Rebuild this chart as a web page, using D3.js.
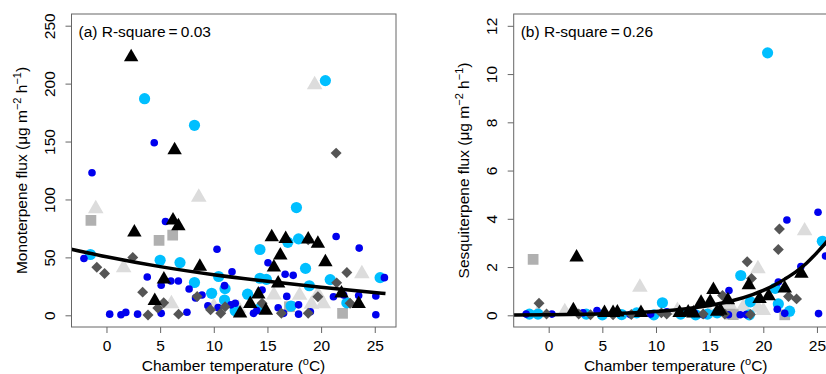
<!DOCTYPE html>
<html>
<head>
<meta charset="utf-8">
<script src="https://cdn.jsdelivr.net/npm/d3@7"></script>
<style>
  body { margin: 0; background: #fff; }
  svg { display: block; font-family: "Liberation Sans", Arial, sans-serif; }
</style>
</head>
<body>
<svg id="chart" width="826" height="374"></svg>
<script>
// ---- panel (a): monoterpene flux, [temperature, flux] ----
const blueA = [[-2.1,49],[-1.35,123],[4.45,149],[0.3,1],[1.35,0.5],[1.8,2.5],[2.9,1],[3.8,33],[5.5,81],[5.1,26],
  [6.0,29.6],[6.7,29.6],[7.7,22.7],[7.5,2.6],[8.3,15],[8.9,17.5],[9.45,8.3],[10.4,6.6],[10.3,57],[11.0,25.6],
  [11.7,37.5],[11.6,9],[12.0,10.4],[13.7,1.7],[14.5,21.8],[15.05,45.3],[16.65,35.5],[17.4,34.5],[16.8,16.3],[16.0,6.5],
  [16.5,1.7],[17.9,1],[17.9,9],[21.4,68],[21.15,16],[22.1,17.5],[23.5,17],[23.55,58],[25.1,16.7],[25.1,0.5],
  [25.9,32.5],[5.1,1.7],[14.0,4],[19.0,3]];
const cyanA = [[20.4,202.6],[3.55,187],[8.2,164],[17.7,93],[17.9,66],[16.9,63],[-1.5,52.5],[5.0,47.5],[6.85,45.5],[14.3,56.8],
  [8.2,28.3],[10.45,33.5],[9.8,19],[11.05,23],[11.0,13.2],[13.15,18.2],[14.3,32],[14.9,31],[14.3,6],[18.55,40.5],
  [18.9,25.5],[20.85,30.8],[22.4,10.7],[25.5,32.5],[12.0,4],[17.2,8]];
const blackTriA = [[2.3,223],[6.35,142.7],[2.6,71.6],[6.2,82],[6.7,77],[8.7,42],[5.35,31],[4.5,12.5],[12.45,1.7],[13.4,9.9],
  [14.15,18],[14.85,4],[15.4,67.5],[15.6,41.5],[16.2,51.8],[16.0,27.6],[16.7,66],[18.8,65.6],[19.7,62],[20.4,46],
  [21.9,19],[23.5,9.8]];
const lightTriA = [[19.4,199],[8.6,102],[-1.0,92],[1.6,41],[6.05,10],[10.0,7.7],[15.6,17.5],[18.0,17.2],[19.7,18.2],[19.1,9.5],
  [23.8,35.8],[12.3,6],[20.2,10]];
const diamondA = [[21.4,140],[-0.9,41.4],[-0.18,36],[2.45,50],[3.37,20],[3.87,0.3],[4.78,6.3],[5.33,10.8],[6.72,1],[8.45,16.3],
  [9.7,4.8],[10.65,1.8],[11.05,7.4],[14.5,10.4],[16.3,1.7],[18.8,65.3],[18.8,1.7],[22.4,37],[21.45,28],[22.7,10.4],
  [19.7,16]];
const squareA = [[-1.45,82],[4.9,64.6],[6.17,69.3],[17.05,7.4],[22.0,1.7]];
const fitXA = [-3.3, 0, 5, 10, 15, 20, 26];
const fitYA = [57, 50.5, 42, 35, 29.3, 24.3, 18.8];

// ---- panel (b): sesquiterpene flux ----
const blueB = [[-2.1,0.05],[0.3,0.05],[4.5,0.2],[7.6,0.03],[11.0,0.15],[14.4,0.02],[16.75,0.02],[17.85,0.02],[16.8,1.03],[21.4,1.38],
  [21.3,0.25],[22.0,0.08],[22.2,3.95],[23.5,2.02],[25.1,4.27],[25.15,0.07],[25.8,2.46],[3.2,0.1],[9.5,0.05],[13.6,0.08],
  [18.4,0.03]];
const cyanB = [[20.4,10.88],[25.5,3.07],[17.9,1.65],[21.1,1.12],[21.4,0.47],[22.45,0.17],[18.8,0.56],[10.6,0.52],[-1.8,0.05],[3.5,0.05],
  [5.0,0.02],[6.8,0.03],[8.2,0.1],[9.8,0.02],[12.3,0.05],[13.7,0.02],[14.8,0.05],[15.7,0.1],[18.7,0.02],[-1.0,0.05]];
const blackTriB = [[2.6,2.4],[18.65,1.25],[23.55,1.73],[22.0,1.12],[19.65,0.68],[20.5,0.8],[15.35,1.06],[16.7,0.63],[14.2,0.53],[15.05,0.56],
  [2.3,0.22],[5.2,0.1],[6.0,0.1],[6.4,0.12],[8.6,0.1],[12.2,0.1],[13.0,0.12],[15.7,0.15],[13.5,0.08],[16.0,0.2]];
const lightTriB = [[23.85,3.5],[8.5,1.16],[19.5,1.93],[18.15,0.36],[19.5,0.3],[17.15,0.22],[1.5,0.15],[12.0,0.2],[-1.0,0.1],[20.0,0.2],
  [16.5,0.4],[15.0,0.1],[13.5,0.1]];
const diamondB = [[21.5,3.58],[21.4,2.73],[18.5,2.22],[18.9,1.53],[22.35,0.78],[23.1,0.68],[16.2,0.82],[-0.9,0.5],[-0.2,0.05],[2.8,0.05],
  [3.9,0.02],[6.0,0.02],[7.7,0.03],[11.0,0.05],[14.4,0.05],[16.4,0.05],[18.8,0.03],[10.5,0.1]];
const squareB = [[-1.45,2.32],[22.0,0.02],[16.9,0.05],[17.2,0.03]];
const fitXB = [-3.3, 0, 5, 10, 13, 15, 17, 19, 20, 21, 22, 23, 24, 25, 26, 27];
const fitYB = [0.015, 0.026, 0.065, 0.16, 0.28, 0.41, 0.59, 0.86, 1.03, 1.24, 1.5, 1.79, 2.15, 2.6, 3.1, 3.74];

const xTicks = [0, 5, 10, 15, 20, 25];
const yTicksA = [0, 50, 100, 150, 200, 250];
const yTicksB = [0, 2, 4, 6, 8, 10, 12];

const svg = d3.select("#chart");

function drawPanel(p) {
  const x = d3.scaleLinear().domain([-3.26, 26.98]).range([p.left, p.left + 324.5]);
  const y = d3.scaleLinear().domain(p.yDomain).range([327, 14]);
  const g = svg.append("g");

  // Draw the X-axis on the DOM
  const xa = g.append("g")
    .attr("transform", "translate(0,327)")
    .call(d3.axisBottom(x).tickValues(xTicks).tickSize(6).tickPadding(7));
  xa.select(".domain").remove();
  xa.selectAll("line").attr("stroke", "#666");
  xa.selectAll("text").style("font-size", "15.5px").attr("fill", "#000");

  // Draw the Y-axis on the DOM, labels turned like R does
  const ya = g.append("g")
    .attr("transform", "translate(" + p.left + ",0)")
    .call(d3.axisLeft(y).tickValues(p.yTicks).tickSize(6));
  ya.select(".domain").remove();
  ya.selectAll("line").attr("stroke", "#666");
  ya.selectAll("text")
    .attr("x", 0).attr("dy", 0)
    .attr("transform", "translate(-17,0) rotate(-90)")
    .style("text-anchor", "middle")
    .style("font-size", "15.5px")
    .attr("fill", "#000");

  const clipId = "clip" + p.left;
  svg.append("clipPath").attr("id", clipId)
    .append("rect").attr("x", p.left).attr("y", 14).attr("width", 324.5).attr("height", 313);
  const plot = g.append("g").attr("clip-path", "url(#" + clipId + ")");

  const sym = (type, size) => d3.symbol().type(type).size(size);
  const pts = (data, draw) => plot.append("g").selectAll("path").data(data).enter().call(draw);

  // light grey triangles
  pts(p.lightTri, s => s.append("path")
    .attr("transform", d => "translate(" + x(d[0]) + "," + y(d[1]) + ")")
    .attr("d", sym(d3.symbolTriangle, 105)).attr("fill", "#dcdcdc"));
  // grey squares
  pts(p.square, s => s.append("path")
    .attr("transform", d => "translate(" + x(d[0]) + "," + y(d[1]) + ")")
    .attr("d", sym(d3.symbolSquare, 115)).attr("fill", "#b0b0b0"));
  // cyan circles
  pts(p.cyan, s => s.append("circle")
    .attr("cx", d => x(d[0])).attr("cy", d => y(d[1])).attr("r", 5.6).attr("fill", "#00bfff"));
  // blue dots
  pts(p.blue, s => s.append("circle")
    .attr("cx", d => x(d[0])).attr("cy", d => y(d[1])).attr("r", 3.8).attr("fill", "#0000ee"));
  // dark grey diamonds
  pts(p.diamond, s => s.append("path")
    .attr("transform", d => "translate(" + x(d[0]) + "," + y(d[1]) + ") rotate(45)")
    .attr("d", sym(d3.symbolSquare, 60)).attr("fill", "#555"));
  // black triangles
  pts(p.blackTri, s => s.append("path")
    .attr("transform", d => "translate(" + x(d[0]) + "," + y(d[1]) + ")")
    .attr("d", sym(d3.symbolTriangle, 90)).attr("fill", "#000"));

  // fitted curve
  const line = d3.line().x(d => x(d[0])).y(d => y(d[1])).curve(d3.curveMonotoneX);
  plot.append("path")
    .datum(p.fitX.map((v, i) => [v, p.fitY[i]]))
    .attr("d", line)
    .attr("fill", "none")
    .attr("stroke", "#000")
    .attr("stroke-width", 3.5);

  // the box
  g.append("rect")
    .attr("x", p.left).attr("y", 14).attr("width", 324.5).attr("height", 313)
    .attr("fill", "none").attr("stroke", "#666").attr("stroke-width", 1);

  g.append("text")
    .attr("x", p.left + 7).attr("y", 37)
    .style("font-size", "15.5px")
    .text(p.label);

  g.append("text")
    .attr("x", p.left + 162).attr("y", 371)
    .style("font-size", "15.5px")
    .style("text-anchor", "middle")
    .html("Chamber temperature (<tspan dy='-6' font-size='11px'>o</tspan><tspan dy='6'>C)</tspan>");

  g.append("text")
    .attr("transform", "translate(" + (p.left - 45) + ",170.5) rotate(-90)")
    .style("font-size", "15.5px")
    .style("text-anchor", "middle")
    .html(p.yTitle + " (\u03bcg m<tspan dy='-6' font-size='11px'>\u22122</tspan><tspan dy='6'> h</tspan>" +
      "<tspan dy='-6' font-size='11px'>\u22121</tspan><tspan dy='6'>)</tspan>");
}

drawPanel({
  left: 71.5, yDomain: [-10.1, 260.1], yTicks: yTicksA, label: "(a) R-square\u2009=\u20090.03",
  yTitle: "Monoterpene flux",
  blue: blueA, cyan: cyanA, blackTri: blackTriA, lightTri: lightTriA, diamond: diamondA, square: squareA,
  fitX: fitXA, fitY: fitYA
});
drawPanel({
  left: 513.7, yDomain: [-0.485, 12.49], yTicks: yTicksB, label: "(b) R-square\u2009=\u20090.26",
  yTitle: "Sesquiterpene flux",
  blue: blueB, cyan: cyanB, blackTri: blackTriB, lightTri: lightTriB, diamond: diamondB, square: squareB,
  fitX: fitXB, fitY: fitYB
});
</script>
</body>
</html>
